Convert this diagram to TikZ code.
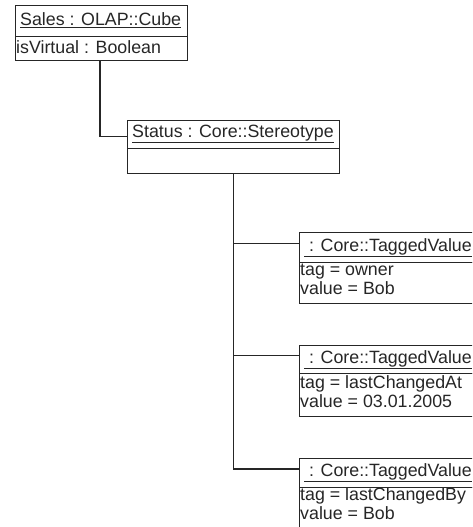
\documentclass[tikz,border=0pt]{standalone}
\usepackage{fontspec}
\setmainfont{Liberation Sans}
\begin{document}
\begin{tikzpicture}[x=1pt,y=-1pt,
  box/.style={draw=black!85, line width=1.3pt, inner sep=0pt, anchor=north west},
  txt/.style={anchor=base west, inner sep=0pt, font=\fontsize{17.8}{19}\selectfont, text=black!85},
  conn/.style={draw=black!85, line width=1.4pt}]
\useasboundingbox (0,0) rectangle (472,527);
\clip (0,0) rectangle (472,527);
% Sales
\node[box, minimum width=172pt, minimum height=31pt] (saleshead) at (15,5) {};
\node[box, minimum width=172pt, minimum height=24pt] (salesbody) at (15,36) {};
\node[txt] (t1) at (20,26) {\underline{Sales : OLAP::Cube}};
\node[txt] (t2) at (16,53) {isVirtual : Boolean};
% Status
\node[box, minimum width=212pt, minimum height=28pt] (stathead) at (127,120) {};
\node[box, minimum width=212pt, minimum height=25pt] (statbody) at (127,148) {};
\node[txt] (t3) at (132,137) {\underline{Status : Core::Stereotype}};
% Tagged values
\node[box, minimum width=190pt, minimum height=30pt] (tv1head) at (299,232) {};
\node[box, minimum width=190pt, minimum height=41pt] (tv1body) at (299,262) {};
\node[txt] (t4) at (304,251) {\underline{\ : Core::TaggedValue}};
\node[txt] (t5) at (300,275) {tag = owner};
\node[txt] (t6) at (300,294) {value = Bob};
\node[box, minimum width=190pt, minimum height=28pt] (tv2head) at (299,345) {};
\node[box, minimum width=190pt, minimum height=43pt] (tv2body) at (299,373) {};
\node[txt] (t7) at (304,363) {\underline{\ : Core::TaggedValue}};
\node[txt] (t8) at (300,388) {tag = lastChangedAt};
\node[txt] (t9) at (300,407) {value = 03.01.2005};
\node[box, minimum width=190pt, minimum height=29pt] (tv3head) at (299,458) {};
\node[box, minimum width=190pt, minimum height=60pt] (tv3body) at (299,487) {};
\node[txt] (t10) at (304,476) {\underline{\ : Core::TaggedValue}};
\node[txt] (t11) at (300,500) {tag = lastChangedBy};
\node[txt] (t12) at (300,519) {value = Bob};
% connectors
\coordinate (sdrop) at ([xshift=85pt]salesbody.south west);
\coordinate (sin) at ([yshift=-2pt]stathead.west);
\coordinate (c1) at ([yshift=4pt]tv1head.west);
\coordinate (c2) at ([yshift=4pt]tv2head.west);
\coordinate (c3) at ([yshift=4pt]tv3head.west);
\draw[conn] (sdrop) |- (sin);
\draw[conn] (statbody.south) |- (c3);
\draw[conn] (statbody.south |- c1) -- (c1);
\draw[conn] (statbody.south |- c2) -- (c2);
\end{tikzpicture}
\end{document}
